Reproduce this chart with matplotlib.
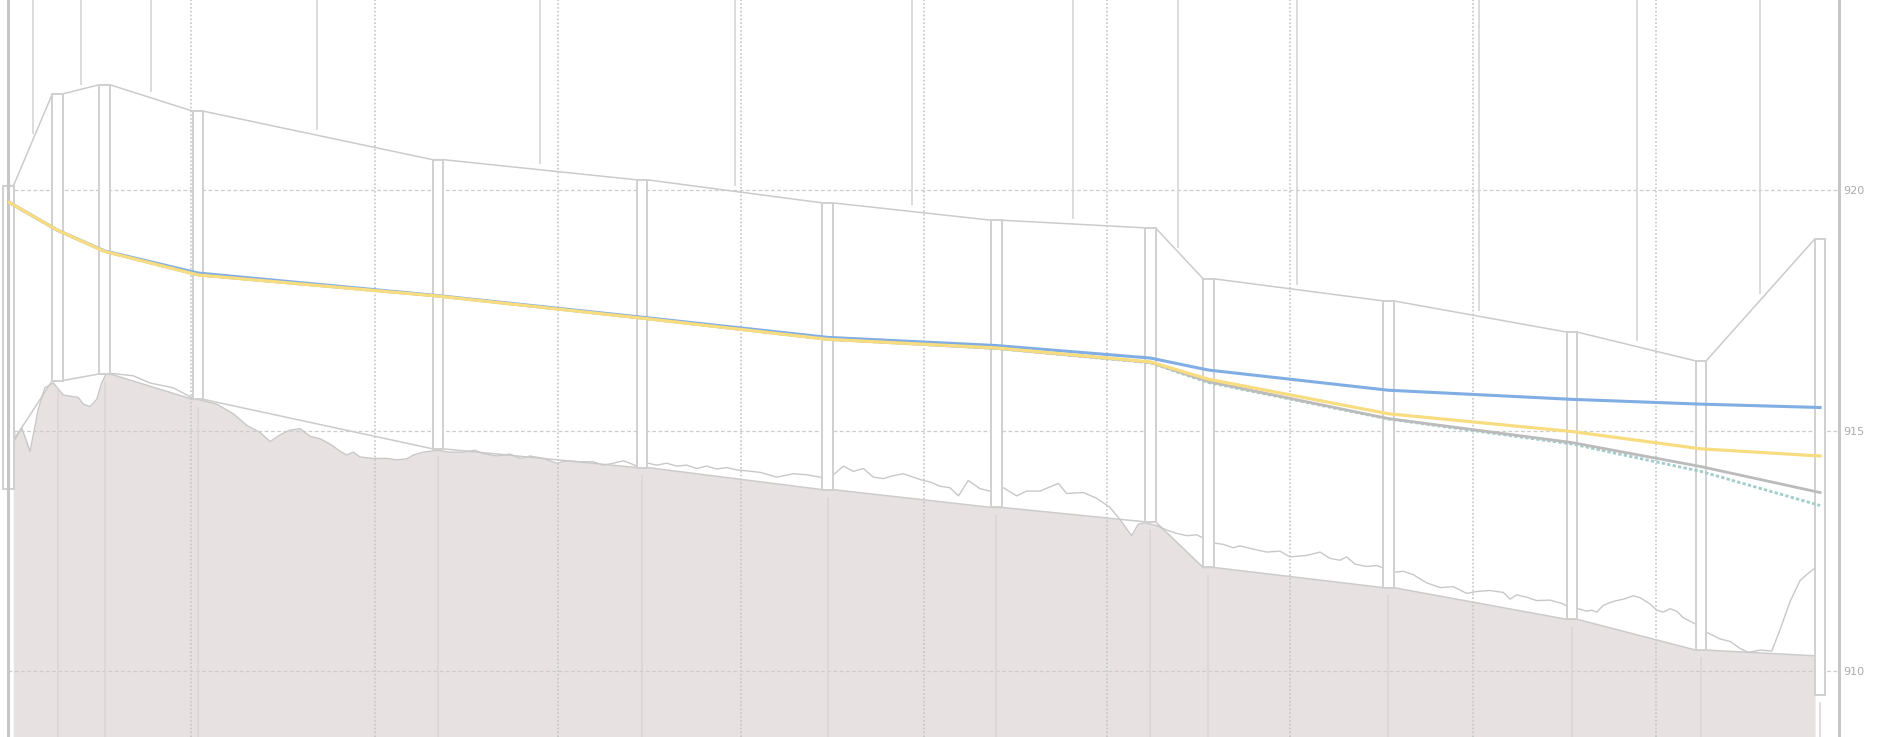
import numpy as np
import matplotlib
matplotlib.use("Agg")
import matplotlib.pyplot as plt
from matplotlib.patches import Rectangle

# Manholes: chainage (m), rim level, pipe invert, structure bottom
mh_station = [0.0, 26.9, 52.6, 103.6, 234.6, 346.1, 447.5, 539.6, 623.7, 655.4, 753.7, 854.0, 924.4, 989.5]
mh_rim = [920.10, 922.01, 922.20, 921.65, 920.64, 920.22, 919.74, 919.38, 919.22, 918.16, 917.70, 917.05, 916.45, 918.99]
mh_invert = [914.80, 916.04, 916.18, 915.65, 914.62, 914.23, 913.77, 913.40, 913.10, 912.15, 911.73, 911.07, 910.43, 910.31]
mh_bottom = [913.78, 916.04, 916.18, 915.65, 914.62, 914.23, 913.77, 913.40, 913.10, 912.15, 911.73, 911.07, 910.43, 909.50]

# Hydraulic grade lines at each manhole
hgl_blue = [919.76, 919.17, 918.74, 918.28, 917.81, 917.36, 916.94, 916.77, 916.51, 916.26, 915.84, 915.65, 915.55, 915.48]
hgl_yellow = [919.76, 919.17, 918.73, 918.24, 917.80, 917.34, 916.90, 916.72, 916.43, 916.07, 915.35, 914.98, 914.62, 914.47]
hgl_gray = [919.76, 919.17, 918.73, 918.24, 917.80, 917.34, 916.90, 916.71, 916.42, 916.02, 915.25, 914.75, 914.25, 913.71]
hgl_teal = [919.76, 919.17, 918.73, 918.24, 917.80, 917.34, 916.90, 916.71, 916.41, 916.00, 915.24, 914.72, 914.15, 913.44]

# Surveyed terrain profile (chainage, level)
terrain_x = [2.7, 3.7, 7.3, 11.9, 16.4, 20.0, 24.6, 30.0, 38.2, 41.0, 44.6, 48.3, 51.0, 53.7,
             68.3, 77.4, 90.1, 101.0, 113.8, 122.9, 130.2, 137.5, 143.0, 148.4, 153.9, 159.3,
             164.8, 170.3, 175.7, 181.2, 184.8, 188.4, 192.1, 199.3, 206.7, 212.1, 217.6, 221.2,
             226.7, 234.5, 241.2, 248.5, 254.9, 259.4, 266.7, 274.0, 279.5, 284.9, 292.2, 299.5,
             305.0, 312.2, 319.5, 325.0, 330.4, 335.9, 339.5, 343.2, 349.5, 354.1, 359.6, 365.0,
             370.5, 376.0, 381.4, 386.9, 392.4, 397.8, 403.3, 410.6, 419.7, 428.7, 436.1, 443.3,
             450.6, 456.1, 461.5, 467.0, 472.4, 477.9, 483.3, 488.8, 494.3, 499.7, 503.4, 508.8,
             514.3, 518.9, 524.3, 530.7, 536.2, 543.4, 550.7, 556.2, 563.5, 573.5, 578.0, 587.1,
             594.4, 601.7, 607.1, 613.5, 617.1, 620.8, 627.2, 632.6, 638.1, 643.6, 649.0, 658.1,
             663.6, 669.0, 672.7, 680.0, 687.3, 694.5, 700.0, 709.1, 716.4, 721.8, 727.3, 730.9,
             735.5, 741.9, 747.3, 750.9, 756.4, 761.9, 767.3, 774.6, 782.0, 789.2, 796.5, 802.0,
             809.2, 816.5, 820.2, 823.8, 829.3, 834.7, 842.0, 849.3, 851.1, 857.5, 862.0, 864.8,
             867.5, 871.1, 874.8, 878.4, 882.1, 887.5, 891.2, 896.6, 900.3, 903.9, 907.6, 911.2,
             914.9, 921.6, 927.6, 931.3, 934.9, 940.4, 945.9, 950.3, 956.7, 963.1, 967.6, 973.1,
             978.6, 983.1, 986.8]
terrain_z = [915.35, 914.81, 915.06, 914.57, 915.45, 915.89, 915.99, 915.74, 915.69, 915.55, 915.50, 915.65, 915.99, 916.20,
             916.14, 915.99, 915.89, 915.67, 915.55, 915.35, 915.11, 914.96, 914.77, 914.91, 915.01, 915.04,
             914.88, 914.83, 914.72, 914.57, 914.49, 914.55, 914.45, 914.42, 914.42, 914.39, 914.41, 914.49,
             914.55, 914.59, 914.55, 914.55, 914.59, 914.52, 914.47, 914.51, 914.42, 914.47, 914.42, 914.32,
             914.37, 914.35, 914.35, 914.28, 914.32, 914.37, 914.32, 914.26, 914.32, 914.28, 914.32, 914.26,
             914.28, 914.21, 914.26, 914.20, 914.23, 914.18, 914.16, 914.13, 914.03, 914.10, 914.08, 914.03,
             914.08, 914.26, 914.15, 914.21, 914.03, 914.00, 914.06, 914.10, 914.03, 913.96, 913.93, 913.84,
             913.81, 913.64, 913.96, 913.79, 913.74, 913.81, 913.64, 913.74, 913.74, 913.90, 913.69, 913.71,
             913.59, 913.40, 913.15, 912.81, 913.05, 913.08, 913.02, 912.93, 912.86, 912.81, 912.83, 912.66,
             912.63, 912.56, 912.60, 912.53, 912.47, 912.49, 912.37, 912.40, 912.47, 912.34, 912.30, 912.37,
             912.22, 912.17, 912.19, 912.14, 912.05, 912.07, 912.00, 911.83, 911.73, 911.75, 911.61, 911.65,
             911.67, 911.63, 911.49, 911.58, 911.53, 911.46, 911.47, 911.39, 911.34, 911.29, 911.24, 911.26,
             911.22, 911.36, 911.42, 911.46, 911.49, 911.56, 911.52, 911.39, 911.26, 911.22, 911.29, 911.24,
             911.10, 910.97, 910.80, 910.73, 910.66, 910.61, 910.46, 910.38, 910.43, 910.41, 910.85, 911.44,
             911.88, 912.03, 912.14]

# Label leaders hanging from the top annotation band
leader_station = [13.5, 39.7, 77.9, 168.6, 290.4, 396.9, 493.5, 581.5, 638.9, 704.0, 803.2, 889.5, 956.7]
leader_end = [921.17, 922.20, 922.05, 921.26, 920.54, 920.10, 919.69, 919.41, 918.80, 918.04, 917.48, 916.87, 917.85]

y_ticks = [910, 915, 920]
x_grid = list(range(0, 1001, 100))

Y_MIN, Y_MAX = 908.62, 923.964
MH_WIDTH = 5.7

fig = plt.figure(figsize=(18.77, 7.37), dpi=100)
ax = fig.add_axes([8.3 / 1877, 0.0, 1831.0 / 1877, 1.0])
ax.set_xlim(0, 1000)
ax.set_ylim(Y_MIN, Y_MAX)

# edge-to-edge polylines for rim and invert
edge_x, edge_rim, edge_inv = [], [], []
for s, r, i in zip(mh_station, mh_rim, mh_invert):
    edge_x += [s - MH_WIDTH / 2, s + MH_WIDTH / 2]
    edge_rim += [r, r]
    edge_inv += [i, i]

# ground body below terrain, with the trench opened up above the pipe invert
ax.fill_between(terrain_x, terrain_z, Y_MIN, color="#e8e1e1", lw=0, zorder=1.0)
ax.fill_between(edge_x, edge_inv, edge_rim, color="white", lw=0, zorder=1.2)

ax.set_axisbelow("line")
ax.set_yticks(y_ticks)
ax.set_xticks(x_grid)
ax.grid(axis="y", linestyle=(0, (3, 2)), color="#cdcdcd", lw=0.9)
ax.grid(axis="x", linestyle=(0, (1, 1.3)), color="#c6c6c6", lw=1.2)

ax.plot(edge_x, edge_rim, color="#cbcbcb", lw=1.1, zorder=1.6)
ax.plot(edge_x, edge_inv, color="#cbcbcb", lw=1.1, zorder=1.6)
ax.plot(terrain_x, terrain_z, color="#c8c8c8", lw=1.0, zorder=1.7)

ax.vlines(leader_station, leader_end, Y_MAX, color="#d6d6d6", lw=1.2, zorder=1.8)
ax.vlines(mh_station[1:], Y_MIN, np.array(mh_bottom[1:]) - 0.15, color="#dad4d4", lw=1.1, zorder=1.8)

for s, r, b in zip(mh_station, mh_rim, mh_bottom):
    ax.add_patch(Rectangle((s - MH_WIDTH / 2, b), MH_WIDTH, r - b, facecolor="white",
                           edgecolor="#d0d0d0", lw=1.4, zorder=2.0, clip_on=False))

ax.plot(mh_station, hgl_teal, color="#a3cccc", lw=2.0, linestyle=(0, (1.2, 0.8)), zorder=3.0)
ax.plot(mh_station, hgl_gray, color="#bbbbbb", lw=2.0, zorder=3.1)
ax.plot(mh_station, hgl_blue, color="#80ade3", lw=2.2, zorder=3.2)
ax.plot(mh_station, hgl_yellow, color="#f8dc80", lw=2.3, zorder=3.3)

for side in ("top", "bottom"):
    ax.spines[side].set_visible(False)
for side in ("left", "right"):
    ax.spines[side].set_color("#c6c6c6")
    ax.spines[side].set_linewidth(2.2)

ax.tick_params(axis="x", length=0, labelbottom=False)
ax.tick_params(axis="y", length=0, pad=3, labelsize=8, labelcolor="#aaaaaa",
               left=False, right=False, labelleft=False, labelright=True)

fig.savefig("out.png", dpi=100, facecolor="white")
